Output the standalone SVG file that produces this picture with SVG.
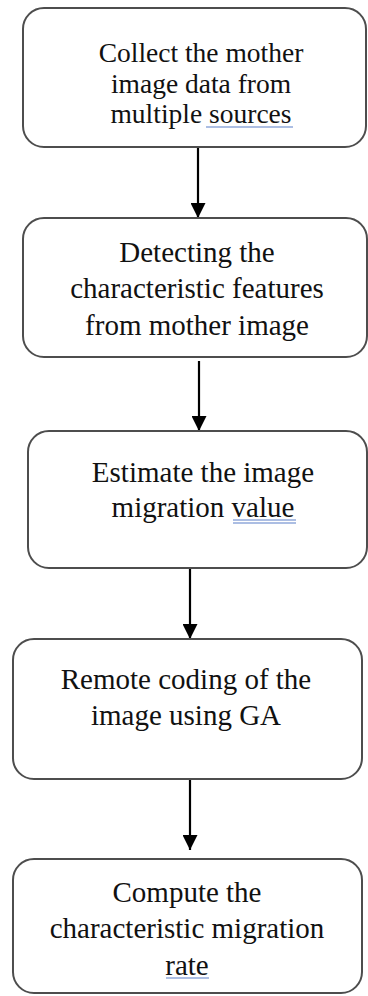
<svg xmlns="http://www.w3.org/2000/svg" width="368" height="996" viewBox="0 0 368 996">
<style>
.box{fill:#ffffff;stroke:#4d4d4d;stroke-width:2}
.t{font-family:'Liberation Serif','Times New Roman',serif;font-size:29px;fill:#111111;text-anchor:middle}
.t1{font-size:27.5px}
.conn{stroke:#000000;stroke-width:2.2;fill:none}
.ul{stroke:#5b7fc7;stroke-width:1.2}
</style>
<defs>
<marker id="ah" markerUnits="userSpaceOnUse" markerWidth="15" markerHeight="15" viewBox="0 0 15 15" refX="15" refY="7.5" orient="auto">
<path d="M0,0 L15,7.5 L0,15 z" fill="#000000"/>
</marker>
</defs>
<rect width="368" height="996" fill="#ffffff"/>
<g id="connectors">
<line class="conn" x1="198" y1="147" x2="198" y2="218" marker-end="url(#ah)"/>
<line class="conn" x1="199" y1="361" x2="199" y2="431" marker-end="url(#ah)"/>
<line class="conn" x1="190" y1="568" x2="190" y2="639" marker-end="url(#ah)"/>
<line class="conn" x1="190" y1="779" x2="190" y2="850" marker-end="url(#ah)"/>
</g>
<g id="node1">
<rect class="box" x="23" y="8" width="343" height="139" rx="21"/>
<text class="t t1" x="201" y="62">Collect the mother</text>
<text class="t t1" x="201" y="93">image data from</text>
<text class="t t1" x="201" y="123">multiple sources</text>
<line class="ul" x1="206" y1="127" x2="293" y2="127"/>
</g>
<g id="node2">
<rect class="box" x="23" y="218" width="344" height="139" rx="21"/>
<text class="t" x="197" y="262">Detecting the</text>
<text class="t" x="197" y="298">characteristic features</text>
<text class="t" x="197" y="335">from mother image</text>
</g>
<g id="node3">
<rect class="box" x="28" y="431" width="339" height="137" rx="21"/>
<text class="t" x="203" y="482">Estimate the image</text>
<text class="t" x="203" y="517">migration value</text>
<line class="ul" x1="233" y1="520" x2="296" y2="520"/>
<line class="ul" x1="233" y1="523" x2="296" y2="523"/>
</g>
<g id="node4">
<rect class="box" x="13" y="639" width="349" height="140" rx="21"/>
<text class="t" x="186" y="689">Remote coding of the</text>
<text class="t" x="186" y="725">image using GA</text>
</g>
<g id="node5">
<rect class="box" x="13" y="859" width="349" height="134" rx="21"/>
<text class="t" x="187" y="902">Compute the</text>
<text class="t" x="187" y="938">characteristic migration</text>
<text class="t" x="187" y="975">rate</text>
<line class="ul" x1="166" y1="978" x2="209" y2="978"/>
</g>
</svg>
